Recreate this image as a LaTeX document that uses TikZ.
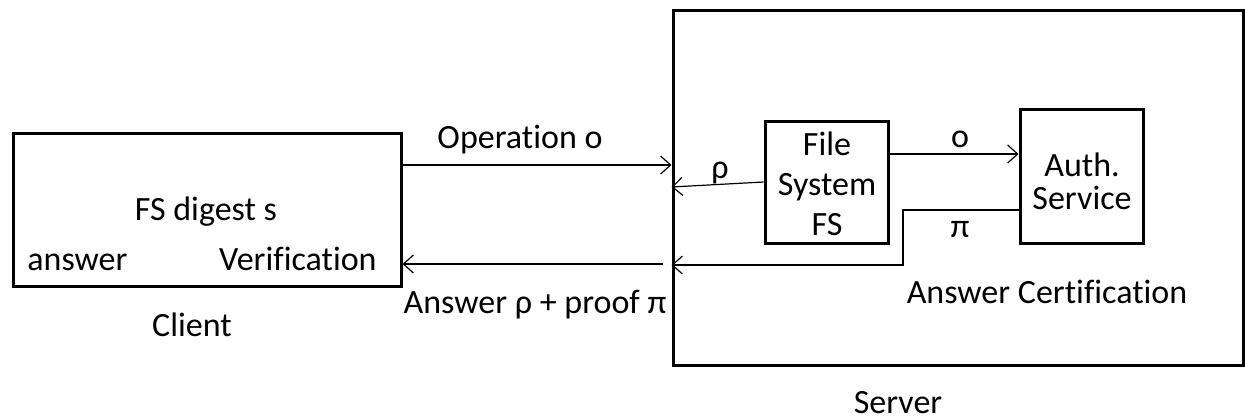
\documentclass[tikz,border=0pt]{standalone}
\usepackage{fontspec}
\setmainfont[Ligatures=NoCommon]{Carlito}
\usetikzlibrary{arrows.meta}
\begin{document}
\begin{tikzpicture}[x=0.5pt,y=-0.5pt,
  box/.style={draw,line width=1.5pt,inner sep=0pt},
  conn/.style={line width=0.6pt},
  arr/.style={conn,-{Straight Barb[length=5pt,width=9pt,line width=0.6pt]}},
  lbl/.style={font=\fontsize{17pt}{20pt}\selectfont,inner sep=0pt,align=center,anchor=base}]
\useasboundingbox (0,0) rectangle (1245,419);
% boxes
\node[box,minimum width=194pt,minimum height=76.5pt] (client) at (207,209.5) {};
\node[box,minimum width=285pt,minimum height=177.5pt] (server) at (958,187.5) {};
\node[box,minimum width=61.5pt,minimum height=61pt] (fs) at (826.5,182) {};
\node[box,minimum width=61.5pt,minimum height=67pt] (auth) at (1081.5,176) {};
% texts
\node[lbl] (digest) at (206,220) {FS digest s};
\node[lbl,anchor=base west] (answer) at (27,270) {answer};
\node[lbl,anchor=base east] (verif) at (377,270) {Verification};
\node[lbl] (clientl) at (192,336) {Client};
\node[lbl] (opl) at (520,148) {Operation o};
\node[lbl] (ansl) at (535,313) {Answer ρ + proof π};
\node[lbl,anchor=center] (fsl) at (827,184) {File\\System\\FS};
\node[lbl,anchor=center] (authl) at (1082,181) {Auth.\\[-3.5pt]Service};
\node[lbl] (ol) at (960,147) {o};
\node[lbl] (rhol) at (720,178) {ρ};
\node[lbl] (pil) at (960,237) {π};
\node[lbl] (certl) at (1047,303) {Answer Certification};
\node[lbl] (serverl) at (898,413) {Server};
% helper coordinates
\coordinate (yop) at (0,165);
\coordinate (yans) at (0,264);
\coordinate (ans0) at (663,264);
\coordinate (yo) at (0,154);
\coordinate (yrho1) at (0,182);
\coordinate (yrho2) at (0,187);
\coordinate (ypi) at (0,210);
\coordinate (pibend) at (903,210);
\coordinate (pibend2) at (903,265);
% connectors
\draw[arr] (client.east |- yop) -- (server.west |- yop);
\draw[arr] (ans0) -- (client.east |- yans);
\draw[arr] (fs.east |- yo) -- (auth.west |- yo);
\draw[arr] (fs.west |- yrho1) -- (server.west |- yrho2);
\draw[arr] (auth.west |- ypi) -- (pibend) -- (pibend2) -- (server.west |- pibend2);
\end{tikzpicture}
\end{document}
